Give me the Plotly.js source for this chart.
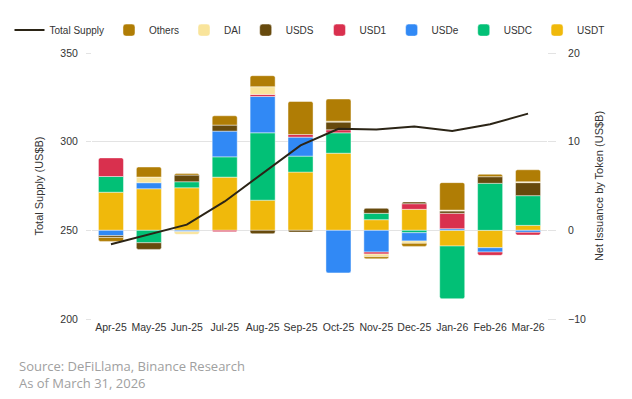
<!DOCTYPE html>
<html>
<head>
<meta charset="utf-8">
<script src="https://cdn.plot.ly/plotly-3.0.1.min.js"></script>
<style>html,body{margin:0;padding:0;background:#fff;}#chart{width:632px;height:399px;}</style>
</head>
<body>
<div id="chart"></div>
<script>
var months = ["Apr-25","May-25","Jun-25","Jul-25","Aug-25","Sep-25","Oct-25","Nov-25","Dec-25","Jan-26","Feb-26","Mar-26"];
var usdt   = [4.3, 4.69, 4.8, 6.0, 3.4, 6.57, 8.7, 1.2, 2.37, -1.77, -1.96, 0.56];
var usdc   = [1.77, -1.4, 0.68, 2.29, 7.6, 1.8, 2.3, 0.72, -0.27, -5.94, 5.3, 3.35];
var usde   = [-0.6, 0.68, -0.15, 2.9, 4.1, 2.14, -4.8, -2.45, -0.94, 0.18, -0.49, -0.23];
var usd1   = [2.1, null, null, -0.15, 0.23, 0.3, 0.34, -0.23, 0.63, 1.74, -0.37, -0.3];
var usds   = [-0.2, -0.75, 0.75, 0.68, -0.38, -0.2, 0.87, 0.56, 0.2, 0.26, 0.75, 1.47];
var dai    = [null, 0.64, -0.3, null, 0.87, null, 0.1, -0.3, -0.26, 0.1, null, 0.1];
var others = [-0.45, 1.13, 0.19, 1.05, 1.24, 3.72, 2.5, -0.23, -0.34, 3.1, 0.27, 1.35];
var totalSupply = [242.1, 247.6, 253.2, 266.3, 282.0, 297.9, 307.3, 306.8, 308.5, 306.0, 309.8, 315.8];

var series = [
  {name: "USDT", y: usdt, color: "#F0B90B", legend: "legend2"},
  {name: "USDC", y: usdc, color: "#02C076", legend: "legend2"},
  {name: "USDe", y: usde, color: "#3189F5", legend: "legend2"},
  {name: "USD1", y: usd1, color: "#D9304E", legend: "legend2"},
  {name: "USDS", y: usds, color: "#674A0D", legend: "legend"},
  {name: "DAI", y: dai, color: "#F9E49B", legend: "legend"},
  {name: "Others", y: others, color: "#B07D05", legend: "legend"}
];

var traces = series.map(function(s){
  return {
    type: "bar", name: s.name, x: months, y: s.y, yaxis: "y", legend: s.legend,
    marker: {color: s.color, line: {color: "rgba(255,255,255,0.55)", width: 0.8}},
    hoverinfo: "skip"
  };
});
traces.push({
  type: "scatter", mode: "lines", name: "Total Supply", x: months, y: totalSupply,
  yaxis: "y2", legend: "legend", line: {color: "#2B2416", width: 2}, hoverinfo: "skip"
});

var fam = "Liberation Sans, Arial, sans-serif";
var tickFont = {family: fam, size: 10.5, color: "#333"};
var legFont = {family: fam, size: 10, color: "#333"};
var layout = {
  width: 632, height: 399,
  margin: {l: 92, r: 85, t: 53, b: 80, autoexpand: false},
  paper_bgcolor: "#fff", plot_bgcolor: "#fff",
  barmode: "relative", bargap: 0.34, barcornerradius: 2,
  showlegend: true,
  legend: {orientation: "h", traceorder: "reversed", x: 0.5, xanchor: "right", y: 1.086, yanchor: "middle",
           font: legFont, itemwidth: 30},
  legend2: {orientation: "h", traceorder: "reversed", x: 0.5, xanchor: "left", y: 1.086, yanchor: "middle",
           font: legFont, itemwidth: 30},
  xaxis: {tickfont: tickFont, showgrid: false, zeroline: false, showline: false, ticks: "", fixedrange: true},
  yaxis: {side: "right", range: [-10, 20], tickvals: [-10, 0, 10, 20], tickfont: tickFont,
          showgrid: true, gridcolor: "#e3e3e3", gridwidth: 1, zeroline: false, showline: false,
          ticks: "outside", ticklen: 8, tickcolor: "#e3e3e3", ticklabelstandoff: 10,
          title: {text: "Net Issuance by Token (US$B)", font: {family: fam, size: 11, color: "#333"}, standoff: 10}},
  yaxis2: {overlaying: "y", side: "left", range: [200, 350], tickvals: [200, 250, 300, 350], tickfont: tickFont,
           showgrid: false, zeroline: false, showline: false,
           ticks: "outside", ticklen: 5, tickcolor: "#e3e3e3", ticklabelstandoff: 6,
           title: {text: "Total Supply (US$B)", font: {family: fam, size: 11, color: "#333"}, standoff: 14}},
  annotations: [
    {xref: "paper", yref: "paper", x: -0.1648, y: -0.1767, xanchor: "left", yanchor: "middle", showarrow: false,
     text: "Source: DeFiLlama, Binance Research", font: {family: "Open Sans, sans-serif", size: 13, color: "#a0a0a0"}},
    {xref: "paper", yref: "paper", x: -0.1648, y: -0.2406, xanchor: "left", yanchor: "middle", showarrow: false,
     text: "As of March 31, 2026", font: {family: "Open Sans, sans-serif", size: 13, color: "#a0a0a0"}}
  ]
};

Plotly.newPlot("chart", traces, layout, {displayModeBar: false, staticPlot: true});
</script>
</body>
</html>
